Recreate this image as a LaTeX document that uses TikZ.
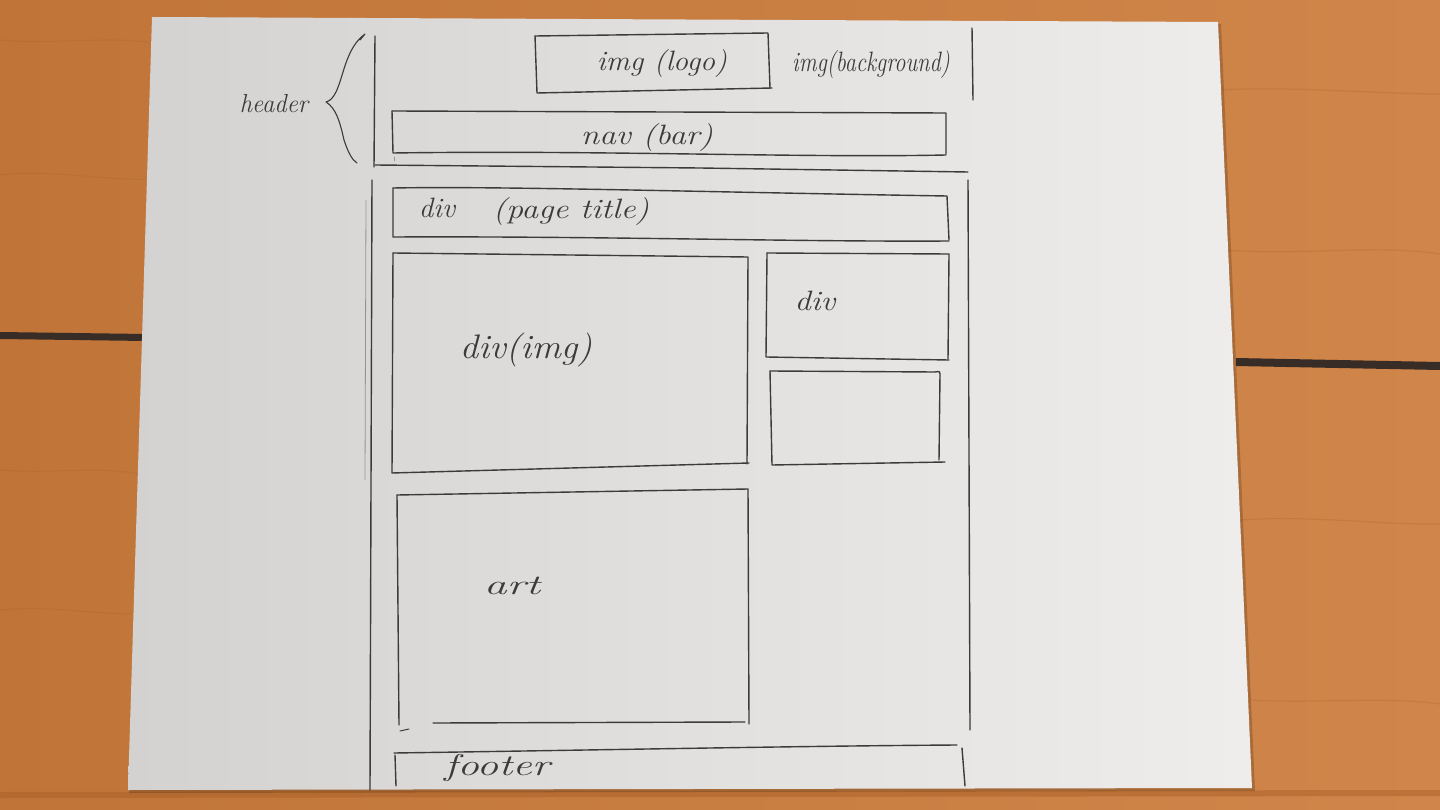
\documentclass[tikz,border=0pt]{standalone}
\usetikzlibrary{calc}
\definecolor{woodA}{RGB}{192,116,56}
\definecolor{woodB}{RGB}{208,134,74}
\definecolor{grain}{RGB}{170,96,40}
\definecolor{gap}{RGB}{56,44,38}
\definecolor{paperL}{RGB}{212,210,209}
\definecolor{paperM}{RGB}{226,224,223}
\definecolor{paperR}{RGB}{238,237,236}
\definecolor{ink}{RGB}{60,58,58}
\begin{document}
\begin{tikzpicture}[x=1pt,y=-1pt,
  pen/.style={draw=ink, line width=1.4pt, line cap=round, line join=round},
  faintpen/.style={draw=ink!55, line width=0.8pt, line cap=round},
  hand/.style={text=ink, inner sep=0pt, transform shape,
               font=\fontsize{28}{30}\selectfont\itshape}]
\useasboundingbox (0,0) rectangle (1440,810);

% table top
\shade[left color=woodA, right color=woodB] (0,0) rectangle (1440,810);
\foreach \yy/\xa/\xb/\bend in {40/0/160/5, 175/0/150/-6, 470/0/140/4, 610/0/140/-5,
                               90/1220/1440/-4, 250/1225/1440/6, 520/1240/1440/-5, 700/1250/1440/4}
  \draw[grain, opacity=0.25, line width=1.2pt] (\xa,\yy) .. controls ($(\xa,\yy)!0.35!(\xb,\yy)+(0,\bend)$) and ($(\xa,\yy)!0.7!(\xb,\yy)+(0,-\bend)$) .. (\xb,\yy+4);
% gaps between the boards
\fill[gap] (0,332) -- (146,334) -- (146,341) -- (0,339) -- cycle;
\fill[gap] (1236,358) -- (1440,362) -- (1440,370) -- (1236,366) -- cycle;
\fill[grain, opacity=0.5] (0,792) -- (1440,790) -- (1440,796) -- (0,798) -- cycle;

% sheet of paper
\fill[black, opacity=0.18] (154,19) -- (1221,24) -- (1255,791) -- (129,793) -- cycle;
\shade[left color=paperL, right color=paperR, middle color=paperM]
  (152,17) -- (1218,22) -- (1252,788) -- (128,790) -- cycle;

% header region
\draw[pen] (375,36) -- (374,167);
\draw[pen] (972,28) -- (973,100);
\draw[pen] (375,165) -- (700,168) -- (968,172);
% header brace
\draw[pen, line width=1.1pt] (360,40) -- (365,34)
  .. controls (346,48) and (344,75) .. (336,92)
  .. controls (333,98) and (330,101) .. (326,102)
  .. controls (336,108) and (340,122) .. (344,140)
  .. controls (348,152) and (352,160) .. (357,163);
\node[hand, xscale=0.95, font=\fontsize{26}{28}\selectfont\itshape] (header) at (274,104) {header};

% logo box
\draw[pen] (535,36) -- (768,33) -- (770,88);
\draw[pen] (535,36) -- (537,93) -- (772,88);
\node[hand, xscale=1.07] (logo) at (662,64) {img (logo)};
\node[hand, xscale=0.8] (bg) at (871,65) {img(background)};

% navigation bar
\draw[pen] (392,111) -- (946,113) -- (946,154);
\draw[pen] (392,111) -- (393,153) .. controls (600,150) and (800,158) .. (946,155);
\draw[faintpen] (394,157) -- (394,161);
\node[hand, xscale=1.19] (nav) at (647,138) {nav (bar)};

% content frame
\draw[pen] (372,180) -- (370,790);
\draw[faintpen] (366,200) -- (365,480);
\draw[pen] (968,180) -- (970,730);

% page title
\draw[pen] (393,188) .. controls (500,186) and (700,192) .. (947,196) -- (949,240);
\draw[pen] (393,188) -- (393,237) .. controls (600,236) and (800,242) .. (949,241);
\node[hand, xscale=1.03] (ttl) at (437,208) {div};
\node[hand, xscale=1.2] (pgttl) at (571,212) {(page title)};

% main image block
\draw[pen] (393,253) -- (748,257) -- (747,464);
\draw[pen] (393,253) -- (392,473) -- (749,463);
\node[hand, xscale=1.08, font=\fontsize{34}{36}\selectfont\itshape] (mainimg) at (526,350) {div(img)};

% side blocks
\draw[pen] (767,253) -- (949,254) -- (948,359);
\draw[pen] (767,253) -- (766,357) -- (949,360);
\node[hand, xscale=1.16] (side) at (815,301) {div};
\draw[pen] (770,371) -- (935,372) .. controls (939,371) and (941,372) .. (940,374) -- (939,460);
\draw[pen] (770,371) -- (772,465) -- (945,462);

% article block
\draw[pen] (397,495) -- (748,489) -- (749,724);
\draw[pen] (397,495) -- (399,725);
\draw[pen] (433,723) -- (745,722);
\draw[pen, line width=1pt] (400,731) -- (409,729);
\node[hand, xscale=1.63] (art) at (512,586) {art};

% footer
\draw[pen] (394,753) .. controls (600,750) and (800,746) .. (957,745);
\draw[pen] (395,755) -- (396,786);
\draw[pen] (962,748) -- (965,786);
\node[hand, xscale=1.44, font=\fontsize{30}{32}\selectfont\itshape] (foot) at (497,768) {footer};
\end{tikzpicture}
\end{document}
